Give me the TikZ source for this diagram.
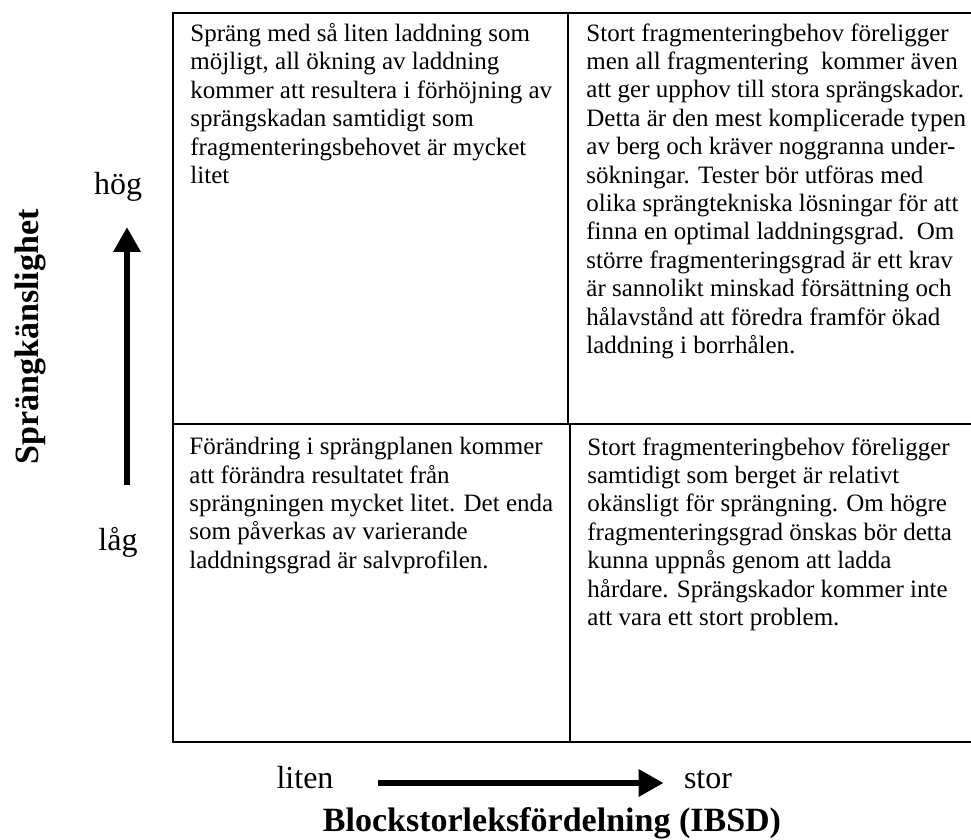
\documentclass[tikz,border=0pt]{standalone}
\usepackage{fontspec}
\setmainfont{Liberation Serif}
\usetikzlibrary{arrows.meta,positioning}

\begin{document}
\begin{tikzpicture}[
    x=0.5pt, y=-0.5pt,
    cell/.style={anchor=north west, align=left, inner sep=0pt, font=\fontsize{12.5}{14.2}\selectfont},
    level/.style={inner sep=0pt, text height=0.7em, text depth=0.2em, font=\fontsize{16}{18}\selectfont},
    axis/.style={inner sep=0pt, font=\bfseries\fontsize{17}{20}\selectfont},
    grid/.style={line width=1pt},
    bigarrow/.style={-{Triangle[length=12.5pt,width=13pt]}, line width=3.2pt}
]
\useasboundingbox (0,0) rectangle (971,840);

% matrix frame
\draw[grid] (173,13) rectangle (972,742);
\draw[grid] (568,13) -- (568,424);
\draw[grid] (570,424) -- (570,742);
\draw[grid] (173,424) -- (972,424);

% cells
\node[cell] (highsmall) at (190,23) {Spräng med så liten laddning som\\möjligt, all ökning av laddning\\kommer att resultera i förhöjning av\\sprängskadan samtidigt som\\fragmenteringsbehovet är mycket\\litet};
\node[cell] (highlarge) at (586,23) {Stort fragmenteringbehov föreligger\\men all fragmentering\ \ kommer även\\att ger upphov till stora sprängskador.\\Detta är den mest komplicerade typen\\av berg och kräver noggranna under-\\sökningar. Tester bör utföras med\\olika sprängtekniska lösningar för att\\finna en optimal laddningsgrad.\ \ Om\\större fragmenteringsgrad är ett krav\\är sannolikt minskad försättning och\\hålavstånd att föredra framför ökad\\laddning i borrhålen.};
\node[cell] (lowsmall) at (189,437) {Förändring i sprängplanen kommer\\att förändra resultatet från\\sprängningen mycket litet. Det enda\\som påverkas av varierande\\laddningsgrad är salvprofilen.};
\node[cell] (lowlarge) at (587,437) {Stort fragmenteringbehov föreligger\\samtidigt som berget är relativt\\okänsligt för sprängning. Om högre\\fragmenteringsgrad önskas bör detta\\kunna uppnås genom att ladda\\hårdare. Sprängskador kommer inte\\att vara ett stort problem.};

% vertical axis
\node[axis, rotate=90] (sens) at (30,337) {Sprängkänslighet};
\node[level] (hog) at (118,190) {hög};
\node[level] (lag) at (118,545) {låg};
\coordinate (lowend) at (127,485);
\coordinate (highend) at (127,227);
\draw[bigarrow] (lowend) -- (highend);

% horizontal axis
\node[level] (liten) at (305,783) {liten};
\node[level] (stor) at (708,783) {stor};
\draw[bigarrow, shorten <=22pt, shorten >=10pt] (liten) -- (stor);
\node[axis] (ibsd) at (552,823) {Blockstorleksfördelning (IBSD)};
\end{tikzpicture}
\end{document}
